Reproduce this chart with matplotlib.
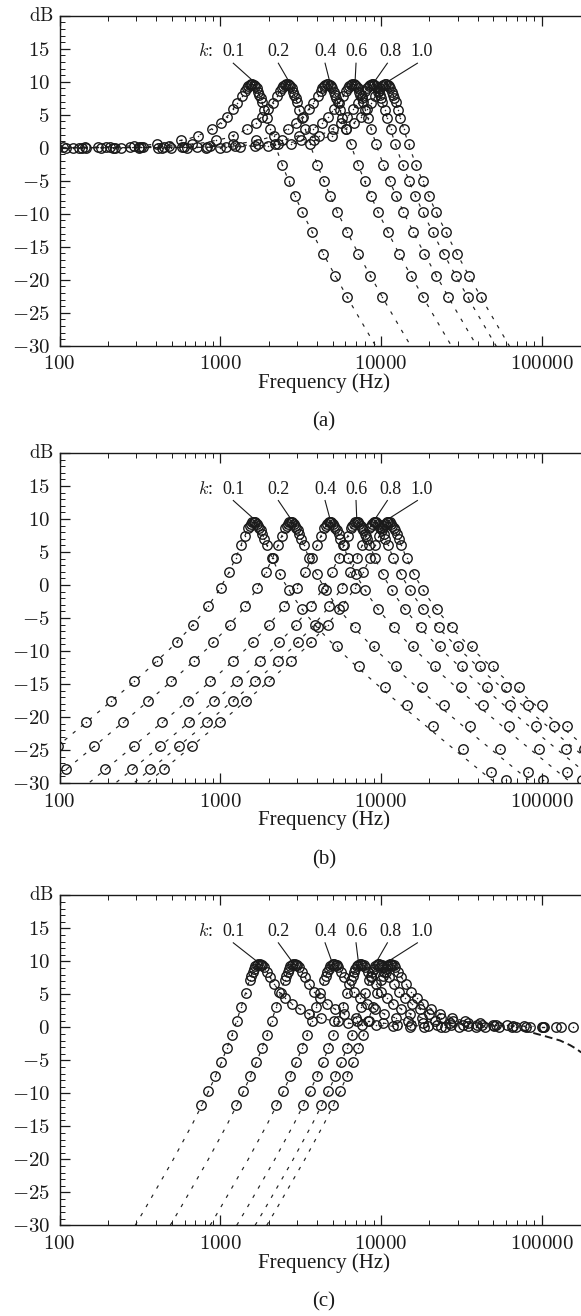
import numpy as np
import matplotlib
matplotlib.use('Agg')
import matplotlib.pyplot as plt
from matplotlib.ticker import FixedLocator, FuncFormatter, LogLocator, MultipleLocator, NullFormatter

plt.rcParams['mathtext.fontset'] = 'cm'
plt.rcParams['font.family'] = ['Liberation Serif', 'DejaVu Serif']

# ---------------- data ----------------
k_labels = ['0.1', '0.2', '0.4', '0.6', '0.8', '1.0']

# peak (centre) frequency of each curve, Hz
fc_a = [1620, 2680, 4800, 6900, 9100, 11000]
fc_b = [1620, 2750, 4820, 7070, 9190, 11100]
fc_c = [1690, 2790, 4940, 7230, 9410, 11120]

# (a) low-pass: theory (dashed) vs normalised frequency f/fc
u_lp_line = [0.005, 0.02, 0.05, 0.1, 0.2, 0.3, 0.4, 0.5, 0.6, 0.7, 0.8, 0.85, 0.9, 0.95, 1.0,
             1.05, 1.1, 1.15, 1.2, 1.3, 1.4, 1.5, 1.7, 2.0, 2.5, 3.0, 4.0, 5.0, 6.0, 8.0]
db_lp_line = [0.0, 0.0, 0.02, 0.08, 0.33, 0.77, 1.41, 2.29, 3.47, 5.02, 6.97, 8.03, 8.99, 9.60, 9.54,
              8.76, 7.48, 6.00, 4.52, 1.78, -0.57, -2.58, -5.90, -9.75, -14.51, -18.13, -23.56, -27.62, -30.90, -35.99]
# (a) low-pass: measured points
u_lp_pts = [0.012, 0.02, 0.03, 0.045, 0.065, 0.09, 0.12, 0.18, 0.25, 0.35,
            0.45, 0.55, 0.62, 0.68, 0.74, 0.79, 0.84, 0.88, 0.9, 0.92,
            0.94, 0.96, 0.98, 1.0, 1.02, 1.04, 1.06, 1.08, 1.1, 1.12,
            1.16, 1.2, 1.26, 1.35, 1.5, 1.65, 1.8, 2.0, 2.3, 2.7, 3.2, 3.8]
db_lp_pts = [0.0, -0.1, 0.1, 0.0, 0.1, 0.0, 0.1, 0.3, 0.5, 1.1,
             1.8, 2.8, 3.8, 4.7, 5.8, 6.8, 7.8, 8.6, 9.0, 9.3,
             9.5, 9.6, 9.6, 9.5, 9.3, 9.0, 8.5, 8.0, 7.5, 6.9,
             5.7, 4.5, 2.8, 0.6, -2.6, -5.1, -7.3, -9.7, -12.8, -16.1, -19.4, -22.6]

# (b) band-pass
u_bp_line = [0.02, 0.04, 0.06, 0.1, 0.15, 0.2, 0.3, 0.4, 0.5, 0.6, 0.7, 0.8, 0.85, 0.9, 0.95, 1.0,
             1.05, 1.1, 1.15, 1.2, 1.3, 1.4, 1.5, 1.7, 2.0, 2.5, 3.0, 4.0, 5.0, 6.0, 8.0, 10, 15,
             20, 30, 40, 60]
db_bp_line = [-33.98, -27.95, -24.41, -19.92, -16.29, -13.65, -9.69, -6.55, -3.73, -0.97, 1.92, 5.03,
              6.62, 8.07, 9.15, 9.54, 9.18, 8.31, 7.21, 6.10, 4.06, 2.35, 0.94, -1.29, -3.73, -6.55,
              -8.59, -11.52, -13.64, -15.34, -17.93, -19.92, -23.50, -26.0, -29.5, -32.0, -35.6]
u_bp_pts = [0.04, 0.06, 0.09, 0.13, 0.18, 0.25, 0.33, 0.42, 0.52, 0.62,
            0.7, 0.77, 0.83, 0.88, 0.92, 0.94, 0.96, 0.98, 1.0, 1.02,
            1.04, 1.06, 1.08, 1.1, 1.13, 1.16, 1.2, 1.3, 1.45, 1.65,
            2.0, 2.5, 3.3, 4.5, 6.5, 9, 13, 20, 30, 37]
db_bp_pts = [-27.9, -24.4, -20.8, -17.6, -14.6, -11.5, -8.7, -6.0, -3.2, -0.4,
             1.9, 4.1, 6.0, 7.5, 8.6, 9.0, 9.3, 9.5, 9.5, 9.5,
             9.3, 9.0, 8.7, 8.3, 7.7, 7.0, 6.1, 4.1, 1.6, -0.8,
             -3.7, -6.4, -9.3, -12.2, -15.5, -18.2, -21.3, -24.8, -28.3, -29.6]

# (c) high-pass
u_hp_line = [0.08, 0.1, 0.15, 0.2, 0.3, 0.4, 0.5, 0.6, 0.7, 0.8, 0.85, 0.9, 0.95, 1.0, 1.05, 1.1,
             1.15, 1.2, 1.3, 1.4, 1.5, 1.7, 2.0, 2.5, 3.0, 4.0, 5.0, 6.0, 8.0]
db_hp_line = [-43.8, -39.92, -32.77, -27.63, -20.15, -14.51, -9.75, -5.40, -1.18, 3.09, 5.21, 7.16,
              8.71, 9.54, 9.61, 9.14, 8.43, 7.69, 6.34, 5.27, 4.46, 3.32, 2.29, 1.41, 0.95, 0.52,
              0.34, 0.23, 0.13]
u_hp_pts = [0.45, 0.5, 0.55, 0.6, 0.65, 0.7, 0.75, 0.8, 0.85, 0.9,
            0.92, 0.94, 0.96, 0.98, 1.0, 1.02, 1.04, 1.06, 1.08, 1.1,
            1.15, 1.2, 1.28, 1.38, 1.5, 1.65, 1.85, 2.1, 2.5, 3.0,
            3.7, 4.5, 5.5, 7.0, 9.0, 11.0, 14.0]
db_hp_pts = [-11.8, -9.6, -7.4, -5.3, -3.2, -1.1, 1.0, 3.1, 5.2, 7.1,
             7.8, 8.4, 8.9, 9.3, 9.5, 9.6, 9.6, 9.5, 9.4, 9.1,
             8.4, 7.6, 6.5, 5.4, 4.4, 3.5, 2.7, 2.0, 1.4, 0.9,
             0.6, 0.4, 0.3, 0.2, 0.1, 0.1, 0.0]

# (c) high-frequency roll-off (heavier dashed line)
roll_f = [75000, 90000, 107000, 130000, 150000, 165000, 176000]
roll_db = [-0.4, -0.9, -1.4, -2.0, -2.7, -3.3, -3.8]

x_ticks = [100, 1000, 10000, 100000]
y_ticks = [-30, -25, -20, -15, -10, -5, 0, 5, 10, 15, 20]
panel_names = ['(a)', '(b)', '(c)']

# ---------------- layout ----------------
FIG_W, FIG_H = 581.0, 1316.0
AX_LEFT_PX = 59.5
AX_H_PX = 330.0
AX_BOTTOM_PX = [345.7, 783.0, 1225.3]

LABEL_X = [1206, 2299, 4490, 6996, 11390, 17940]
LEAD_X = [1206, 2299, 4490, 6996, 10960, 16850]
K_X = 805

fig = plt.figure(figsize=(FIG_W / 100, FIG_H / 100), dpi=100)

panels = [
    (fc_a, u_lp_line, db_lp_line, u_lp_pts, db_lp_pts),
    (fc_b, u_bp_line, db_bp_line, u_bp_pts, db_bp_pts),
    (fc_c, u_hp_line, db_hp_line, u_hp_pts, db_hp_pts),
]

ink = '#1a1a1a'
for p, (fc, u_line, db_line, u_pts, db_pts) in enumerate(panels):
    rect = [AX_LEFT_PX / FIG_W, (FIG_H - AX_BOTTOM_PX[p]) / FIG_H,
            1.0 - AX_LEFT_PX / FIG_W, AX_H_PX / FIG_H]
    ax = fig.add_axes(rect)
    ax.set_xscale('log')
    ax.set_xlim(100, 175600)
    ax.set_ylim(-30, 20)

    for i in range(len(fc)):
        fl = np.array(u_line) * fc[i]
        ax.plot(fl, db_line, color='#222222', lw=0.85, dashes=(3, 6), zorder=2)
        fp = np.array(u_pts) * fc[i]
        ax.plot(fp, db_pts, linestyle='none', marker='o', ms=6.8, mfc='none',
                mec=ink, mew=1.0, zorder=3)
        ax.plot(fp, db_pts, linestyle='none', marker='o', ms=1.1, mfc=ink,
                mec=ink, mew=0, zorder=3)

    if p == 2:
        ax.plot(roll_f, roll_db, color=ink, lw=1.4, dashes=(4, 2.2), zorder=2)

    # annotations
    ax.text(K_X, 14.5, '$k$:', ha='center', va='center', fontsize=13, color=ink)
    for i, lab in enumerate(k_labels):
        ax.text(LABEL_X[i], 14.5, lab, ha='center', va='center', fontsize=13, color=ink)
        ax.plot([LEAD_X[i], fc[i]], [12.8, 10.0], color=ink, lw=0.8, zorder=4)

    # axes styling
    ax.spines['right'].set_visible(False)
    for s in ['left', 'top', 'bottom']:
        ax.spines[s].set_linewidth(1.0)
        ax.spines[s].set_color(ink)
    ax.xaxis.set_major_locator(FixedLocator(x_ticks))
    ax.xaxis.set_minor_locator(LogLocator(base=10, subs=(2, 3, 4, 5, 6, 7, 8, 9), numticks=20))
    ax.xaxis.set_major_formatter(FuncFormatter(lambda v, pos: '$%d$' % int(round(v))))
    ax.xaxis.set_minor_formatter(NullFormatter())
    ax.yaxis.set_major_locator(FixedLocator(y_ticks))
    ax.yaxis.set_minor_locator(MultipleLocator(1))
    ax.yaxis.set_major_formatter(FuncFormatter(
        lambda v, pos: '' if v > 17 else '$%d$' % int(round(v))))
    ax.tick_params(which='major', direction='in', length=7, width=0.9, top=True,
                   right=False, labelsize=15, pad=7, colors=ink)
    ax.tick_params(which='minor', direction='in', length=3.5, width=0.7, top=True,
                   right=False, colors=ink)

    ax.text(-0.035, 1.0, r'$\mathrm{dB}$', transform=ax.transAxes, ha='center',
            va='center', fontsize=13.5, color=ink)
    ax.text(0.507, -37.5 / AX_H_PX, 'Frequency (Hz)', transform=ax.transAxes,
            ha='center', va='center', fontsize=15, color=ink)
    ax.text(0.507, -76.5 / AX_H_PX, panel_names[p], transform=ax.transAxes,
            ha='center', va='center', fontsize=15, color=ink)

fig.savefig('out.png', dpi=100)
